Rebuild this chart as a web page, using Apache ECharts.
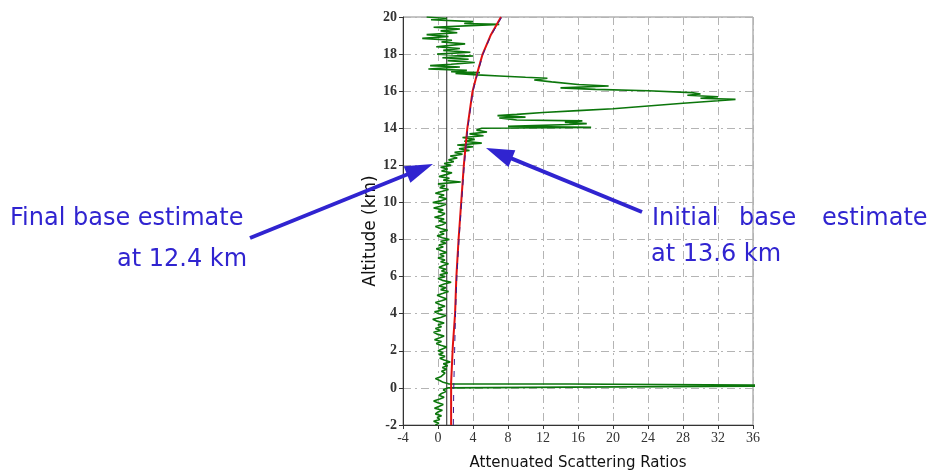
<!DOCTYPE html>
<html>
<head>
<meta charset="utf-8">
<script src="https://cdn.jsdelivr.net/npm/echarts@6/dist/echarts.min.js"></script>
<style>
  html, body { margin: 0; padding: 0; background: #fff; }
  #chart { width: 929px; height: 470px; }
</style>
</head>
<body>
<div id="chart"></div>
<script>
// Axis ranges and tick steps
const xRange = [-4, 36];
const xStep = 4;
const yRange = [-2, 20];
const yStep = 2;

// Reference line position (scattering ratio = 1)
const unityRatio = 1;

// Attenuated scattering ratio profile: [ratio, altitude km], bottom to top
const profileBelowGround = [
  [-0.3, -2.0], [0.1, -1.9], [-0.5, -1.8], [0.2, -1.7], [-0.1, -1.6], [0.4, -1.5],
  [-0.3, -1.4], [0.0, -1.3], [0.5, -1.2], [-0.4, -1.1], [0.1, -1.0], [0.6, -0.9],
  [0.0, -0.8], [-0.5, -0.7], [0.2, -0.6], [0.7, -0.5], [0.1, -0.4], [0.4, -0.3],
  [0.9, -0.2], [0.6, -0.1], [1.1, 0.0]
];

// Strong surface return near 0 km
const profileSurface = [
  [15, 0.04], [36, 0.09], [60, 0.12], [36, 0.15], [15, 0.21], [1.2, 0.22]
];

const profileTroposphere = [
  [0.6, 0.3], [0.2, 0.4], [-0.3, 0.5], [0.3, 0.6], [0.1, 0.7], [0.8, 0.8], [0.4, 0.9],
  [1.0, 1.0], [0.5, 1.1], [1.1, 1.2], [0.6, 1.3], [1.4, 1.4], [0.7, 1.5], [0.2, 1.6],
  [0.8, 1.7], [0.1, 1.8], [0.6, 1.9], [0.0, 2.0], [0.5, 2.1], [1.0, 2.2], [0.3, 2.3],
  [-0.2, 2.4], [0.4, 2.5], [-0.4, 2.6], [0.2, 2.7], [0.7, 2.8], [-0.1, 2.9], [-0.5, 3.0],
  [0.3, 3.1], [-0.3, 3.2], [0.4, 3.3], [0.0, 3.4], [0.7, 3.5], [-0.1, 3.6], [-0.6, 3.7],
  [0.3, 3.8], [0.9, 3.9], [0.1, 4.0], [-0.4, 4.1], [0.5, 4.2], [0.0, 4.3], [0.8, 4.4],
  [0.2, 4.5], [-0.3, 4.6], [0.4, 4.7], [1.0, 4.8], [0.4, 4.9], [-0.1, 5.0], [0.6, 5.1],
  [1.2, 5.2], [0.3, 5.3], [0.9, 5.4], [0.1, 5.5], [0.7, 5.6], [1.5, 5.7], [0.5, 5.8],
  [0.0, 5.9], [0.8, 6.0], [0.2, 6.1], [1.1, 6.2], [0.4, 6.3], [0.9, 6.4], [0.1, 6.5],
  [0.6, 6.6], [1.2, 6.7], [0.3, 6.8], [0.8, 6.9], [0.0, 7.0], [0.7, 7.1], [0.2, 7.2],
  [1.0, 7.3], [0.4, 7.4], [-0.2, 7.5], [0.6, 7.6], [0.1, 7.7], [0.9, 7.8], [0.3, 7.9],
  [1.3, 8.0], [0.5, 8.1], [-0.1, 8.2], [0.7, 8.3], [0.2, 8.4], [1.1, 8.5], [0.3, 8.6],
  [-0.3, 8.7], [0.5, 8.8], [0.9, 8.9], [0.1, 9.0], [0.7, 9.1], [-0.4, 9.2], [0.4, 9.3],
  [0.8, 9.4], [0.0, 9.5], [0.6, 9.6], [-0.5, 9.7], [0.3, 9.8], [0.9, 9.9], [-0.6, 10.0],
  [0.4, 10.1], [1.0, 10.2], [0.1, 10.3], [0.7, 10.4], [-0.3, 10.5], [0.5, 10.6], [1.2, 10.7],
  [0.2, 10.8], [0.8, 10.9], [0.0, 11.0], [2.6, 11.1], [0.6, 11.2], [1.3, 11.3], [0.1, 11.4],
  [0.9, 11.5], [1.6, 11.6], [0.4, 11.7], [1.1, 11.8], [0.3, 11.9], [1.5, 12.0], [0.7, 12.1],
  [1.8, 12.2], [1.2, 12.3], [2.2, 12.4], [1.4, 12.5], [2.8, 12.6], [1.9, 12.7], [3.6, 12.8],
  [2.4, 12.9], [4.0, 13.0], [2.2, 13.1], [5.0, 13.2], [3.0, 13.3], [4.2, 13.4], [2.8, 13.5],
  [5.2, 13.6], [3.6, 13.7], [5.6, 13.8], [4.4, 13.9], [5.0, 14.0]
];

// Cirrus layer and the clear air above it
const profileCloud = [
  [17.5, 14.05], [8, 14.1], [15, 14.2], [17, 14.25], [14.5, 14.32], [16.5, 14.4],
  [9, 14.45], [7, 14.55], [10, 14.6], [6.8, 14.68], [9, 14.75], [12, 14.85], [16, 14.95],
  [20, 15.05], [24, 15.2], [28, 15.35], [32, 15.48], [34, 15.56], [30, 15.62], [32, 15.7],
  [28.5, 15.78], [30, 15.85], [29, 15.92], [24, 16.02], [18, 16.1], [14, 16.18],
  [19.5, 16.28], [16, 16.36], [13, 16.5], [11, 16.6], [12.5, 16.7], [10, 16.75], [7, 16.82],
  [4.5, 16.88], [2, 16.95], [4.8, 17.0], [1.5, 17.05], [3.3, 17.12], [-1.1, 17.2],
  [2.5, 17.3], [-0.9, 17.38], [1.5, 17.45], [4.2, 17.55], [1.1, 17.65], [3.5, 17.72],
  [0.5, 17.8], [4.0, 17.9], [-0.1, 18.0], [3.7, 18.1], [0.6, 18.2], [2.5, 18.3],
  [-0.2, 18.4], [3.1, 18.55], [0.4, 18.65], [1.6, 18.75], [-1.8, 18.85], [1.2, 18.95],
  [-1.3, 19.05], [2.2, 19.15], [0.3, 19.25], [2.5, 19.35], [-0.5, 19.45], [4.4, 19.55],
  [7.0, 19.6], [3.0, 19.65], [4.0, 19.75], [-0.8, 19.85], [1.0, 19.92], [-1.3, 20.0]
];

// Molecular (clear-air) reference profiles: [ratio, altitude km]
const molecularRed = [
  [1.5, -2], [1.5, 0.3], [1.7, 0.4], [1.7, 2.3], [1.9, 2.4], [1.95, 4], [2.1, 6],
  [2.35, 8], [2.65, 10], [2.95, 12], [3.35, 14], [3.95, 16], [4.5, 17], [5.1, 18],
  [6.0, 19], [7.2, 20]
];
const molecularBlue = [
  [1.75, -2], [1.8, 0], [1.9, 2], [2.0, 4], [2.15, 6], [2.4, 8], [2.7, 10],
  [3.0, 12], [3.4, 14], [4.0, 16], [4.55, 17], [5.15, 18], [6.05, 19], [7.3, 20]
];

// Annotation texts
const finalLabel = ['Final base estimate', 'at 12.4 km'];
const initialLabel = ['Initial', 'base', 'estimate', 'at 13.6 km'];
const yAxisTitle = 'Altitude (km)';
const xAxisTitle = 'Attenuated Scattering Ratios';

const greenProfile = [].concat(profileBelowGround, profileSurface, profileTroposphere, profileCloud);

const chart = echarts.init(document.getElementById('chart'));

const annotColor = '#3024d0';
const gridLine = { color: '#b4b4b4', width: 1, type: [8, 4, 2, 4] };

function arrow(tail, tip, headLen, headHalf, width) {
  const dx = tip[0] - tail[0], dy = tip[1] - tail[1];
  const len = Math.sqrt(dx * dx + dy * dy);
  const ux = dx / len, uy = dy / len;
  const bx = tip[0] - ux * headLen, by = tip[1] - uy * headLen;
  return [
    { type: 'line', shape: { x1: tail[0], y1: tail[1], x2: bx + ux * 2, y2: by + uy * 2 },
      style: { stroke: annotColor, lineWidth: width }, z: 100 },
    { type: 'polygon', shape: { points: [
        tip, [bx - uy * headHalf, by + ux * headHalf], [bx + uy * headHalf, by - ux * headHalf]
      ] }, style: { fill: annotColor }, z: 100 }
  ];
}

const label = (t, x, y) => ({
  type: 'text', left: x, top: y, z: 100,
  style: { text: t, fill: annotColor, font: '24px "DejaVu Sans"' }
});

chart.setOption({
  animation: false,
  grid: {
    left: 403, right: 176, top: 17, bottom: 45, containLabel: false, outerBoundsMode: 'none',
    show: true, borderColor: '#8a8a8a', borderWidth: 1
  },
  xAxis: {
    type: 'value', min: xRange[0], max: xRange[1], interval: xStep,
    name: xAxisTitle, nameLocation: 'middle', nameGap: 31,
    nameTextStyle: { fontFamily: 'DejaVu Sans', fontSize: 15, color: '#111' },
    axisLine: { show: true, onZero: false, lineStyle: { color: '#333', width: 1 } },
    axisTick: { show: true, length: 4, lineStyle: { color: '#333' } },
    axisLabel: { fontFamily: 'Liberation Serif', fontSize: 14, color: '#333', margin: 6 },
    splitLine: { show: true, lineStyle: gridLine }
  },
  yAxis: {
    type: 'value', min: yRange[0], max: yRange[1], interval: yStep,
    axisLine: { show: true, onZero: false, lineStyle: { color: '#333', width: 1 } },
    axisTick: { show: true, length: 4, lineStyle: { color: '#333' } },
    axisLabel: { fontFamily: 'Liberation Serif', fontSize: 14, fontWeight: 'bold', color: '#333', margin: 6 },
    splitLine: { show: true, lineStyle: gridLine }
  },
  series: [
    {
      type: 'line', data: [[unityRatio, yRange[0]], [unityRatio, yRange[1]]],
      symbol: 'none', lineStyle: { color: '#222', width: 1 }, z: 2, silent: true
    },
    {
      type: 'line', data: greenProfile, symbol: 'none', clip: true,
      lineStyle: { color: '#0b760b', width: 1.6 }, z: 3
    },
    {
      type: 'line', data: molecularRed, symbol: 'none', clip: true,
      lineStyle: { color: '#e01010', width: 2 }, z: 4
    },
    {
      type: 'line', data: molecularBlue, symbol: 'none', clip: true,
      lineStyle: { color: '#3a1a90', width: 1, type: [6, 6] }, z: 5
    }
  ],
  graphic: [
    {
      type: 'text', x: 371, y: 231, rotation: Math.PI / 2, z: 50,
      style: { text: yAxisTitle, font: '17px "DejaVu Sans"', fill: '#111',
               textAlign: 'center', textVerticalAlign: 'middle' }
    },
    label(finalLabel[0], 10, 207),
    label(finalLabel[1], 117, 248),
    label(initialLabel[0], 652, 207),
    label(initialLabel[1], 739, 207),
    label(initialLabel[2], 822, 207),
    label(initialLabel[3], 651, 243),
    ...arrow([250, 238], [433, 164], 28, 9, 4),
    ...arrow([642, 212], [486, 148], 28, 9, 4)
  ]
});
</script>
</body>
</html>
